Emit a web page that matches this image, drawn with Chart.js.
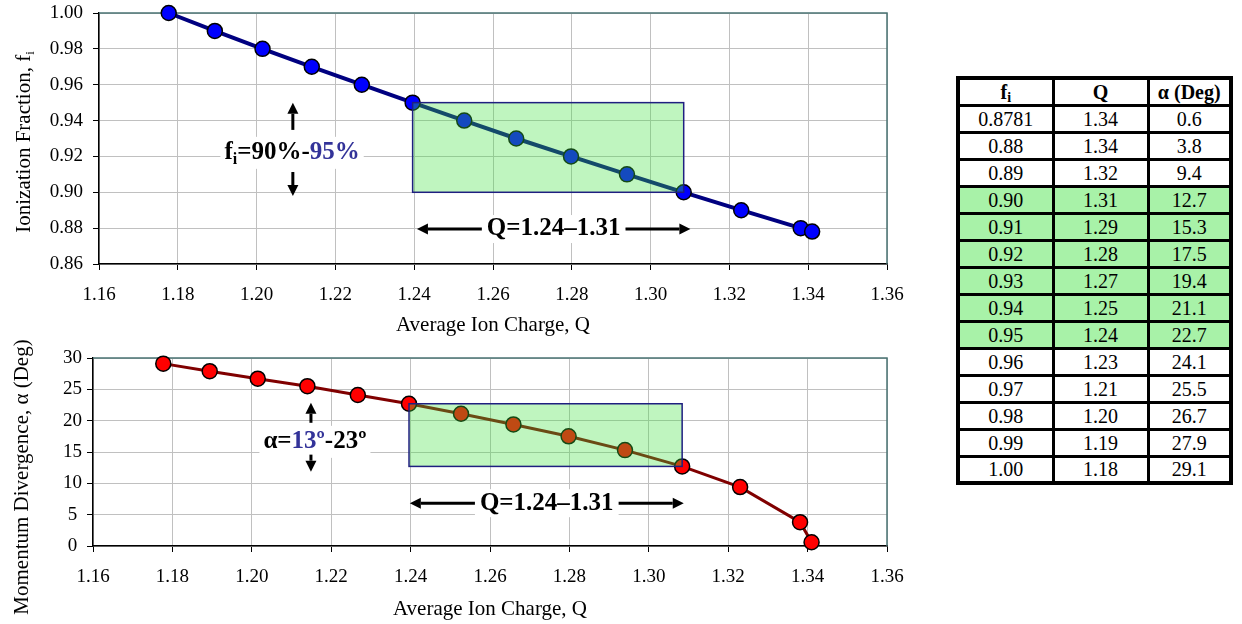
<!DOCTYPE html>
<html>
<head>
<meta charset="utf-8">
<script src="https://cdn.jsdelivr.net/npm/chart.js@4.4.0/dist/chart.umd.min.js"></script>
<style>
  body { margin: 0; background: #fff; width: 1242px; height: 624px; overflow: hidden; position: relative; }
  #topChart { position: absolute; left: 0; top: 0; }
  #botChart { position: absolute; left: 0; top: 335px; }
  #tbl {
    position: absolute; left: 956px; top: 76px; width: 273px;
    border-collapse: collapse; table-layout: fixed;
    border: 4px solid #000;
    font-family: 'Liberation Serif', 'Times New Roman', serif; font-size: 20px;
  }
  #tbl th, #tbl td { border: 3px solid #000; padding: 0; text-align: center; line-height: 22px; }
  #tbl tr { height: 27px; }
  #tbl .band { background: #a8f2a8; }
  #tbl sub { font-size: 14px; vertical-align: -3px; line-height: 0; }
</style>
</head>
<body>
<canvas id="topChart" width="910" height="345"></canvas>
<canvas id="botChart" width="910" height="289"></canvas>
<table id="tbl">
  <colgroup><col style="width:95px"><col style="width:95px"><col style="width:83px"></colgroup>
  <thead><tr><th>f<sub>i</sub></th><th>Q</th><th>α (Deg)</th></tr></thead>
  <tbody></tbody>
</table>
<script>
// data (ordered along Q)
const ionFraction = [1.00, 0.99, 0.98, 0.97, 0.96, 0.95, 0.94, 0.93, 0.92, 0.91, 0.90, 0.89, 0.88, 0.8781];
const ionCharge = [1.1777, 1.1894, 1.2015, 1.2140, 1.2267, 1.2396, 1.2527, 1.2659, 1.2798, 1.2940, 1.3084, 1.3230, 1.3381, 1.3410];
const divergence = [29.1, 27.9, 26.7, 25.5, 24.1, 22.7, 21.1, 19.4, 17.5, 15.3, 12.7, 9.4, 3.8, 0.6];

const chargeTicks = [1.16, 1.18, 1.20, 1.22, 1.24, 1.26, 1.28, 1.30, 1.32, 1.34, 1.36];
const fractionTicks = [0.86, 0.88, 0.90, 0.92, 0.94, 0.96, 0.98, 1.00];
const divergenceTicks = [0, 5, 10, 15, 20, 25, 30];

const bandLow = 0.90, bandHigh = 0.95;

const SERIF = "'Liberation Serif', 'Times New Roman', serif";
Chart.defaults.font.family = SERIF;
Chart.defaults.color = '#000';

// band limits taken from the points inside the 90-95 % window
const inBand = ionFraction.map(f => f >= bandLow - 1e-9 && f <= bandHigh + 1e-9);
const bandQ = ionCharge.filter((q, i) => inBand[i]);
const bandA = divergence.filter((a, i) => inBand[i]);

function segsWidth(ctx, segs, size) {
  let w = 0;
  segs.forEach(s => {
    ctx.font = `bold ${s.sub ? Math.round(size * 0.62) : size}px ${SERIF}`;
    w += ctx.measureText(s.t).width;
  });
  return w;
}

function drawSegs(ctx, segs, x, y, size, weight) {
  ctx.textBaseline = 'middle';
  ctx.textAlign = 'left';
  segs.forEach(s => {
    ctx.font = `${weight} ${s.sub ? Math.round(size * 0.62) : size}px ${SERIF}`;
    ctx.fillStyle = s.color || '#000';
    ctx.fillText(s.t, x, y + (s.sub ? size * 0.3 : 0));
    x += ctx.measureText(s.t).width;
  });
}

function arrow(ctx, x1, y1, x2, y2) {
  const ang = Math.atan2(y2 - y1, x2 - x1);
  const c = Math.cos(ang), s = Math.sin(ang);
  const head = 11, half = 5.5;
  ctx.strokeStyle = '#000';
  ctx.fillStyle = '#000';
  ctx.lineWidth = 3;
  ctx.beginPath();
  ctx.moveTo(x1, y1);
  ctx.lineTo(x2 - head * c, y2 - head * s);
  ctx.stroke();
  ctx.beginPath();
  ctx.moveTo(x2, y2);
  ctx.lineTo(x2 - head * c - half * s, y2 - head * s + half * c);
  ctx.lineTo(x2 - head * c + half * s, y2 - head * s - half * c);
  ctx.closePath();
  ctx.fill();
}

const annotatePlugin = {
  id: 'annotate',
  beforeDatasetsDraw(chart) {
    const { ctx, chartArea: a } = chart;
    ctx.save();
    ctx.strokeStyle = '#4a7373';
    ctx.lineWidth = 1.5;
    ctx.beginPath();
    ctx.moveTo(a.left, a.top);
    ctx.lineTo(a.right, a.top);
    ctx.lineTo(a.right, a.bottom);
    ctx.stroke();
    ctx.restore();
  },
  afterDatasetsDraw(chart, args, o) {
    const { ctx, scales: { x, y } } = chart;
    ctx.save();
    // highlighted window
    const bx0 = x.getPixelForValue(o.box.x0), bx1 = x.getPixelForValue(o.box.x1);
    const by0 = y.getPixelForValue(o.box.y1), by1 = y.getPixelForValue(o.box.y0);
    ctx.fillStyle = 'rgba(60,225,60,0.33)';
    ctx.fillRect(bx0, by0, bx1 - bx0, by1 - by0);
    ctx.strokeStyle = '#1f1f80';
    ctx.lineWidth = 1.5;
    ctx.strokeRect(bx0, by0, bx1 - bx0, by1 - by0);

    // Q range arrow
    const size = 25;
    const rx0 = x.getPixelForValue(o.range.x0), rx1 = x.getPixelForValue(o.range.x1);
    const ry = y.getPixelForValue(o.range.y);
    const rw = segsWidth(ctx, o.range.segs, size);
    const rmid = (rx0 + rx1) / 2;
    ctx.fillStyle = '#fff';
    ctx.fillRect(rmid - rw / 2 - 5, ry - 14, rw + 10, 28);
    drawSegs(ctx, o.range.segs, rmid - rw / 2, ry, size, 'bold');
    arrow(ctx, rmid - rw / 2 - 5, ry, rx0, ry);
    arrow(ctx, rmid + rw / 2 + 5, ry, rx1, ry);

    // vertical label with arrows
    const lx = x.getPixelForValue(o.label.x), ly = y.getPixelForValue(o.label.y);
    const lw = segsWidth(ctx, o.label.segs, size);
    ctx.fillStyle = '#fff';
    ctx.fillRect(lx - lw / 2 - 4, ly - 16, lw + 8, 32);
    drawSegs(ctx, o.label.segs, lx - lw / 2, ly, size, 'bold');
    const ax = x.getPixelForValue(o.label.ax);
    arrow(ctx, ax, y.getPixelForValue(o.label.up[0]), ax, y.getPixelForValue(o.label.up[1]));
    arrow(ctx, ax, y.getPixelForValue(o.label.down[0]), ax, y.getPixelForValue(o.label.down[1]));
    ctx.restore();
  },
  afterDraw(chart, args, o) {
    // rotated y axis title (needs a subscript on the top chart)
    const { ctx } = chart;
    const size = 21;
    ctx.save();
    let w = 0;
    o.yTitle.segs.forEach(s => {
      ctx.font = `${s.sub ? 13 : size}px ${SERIF}`;
      w += ctx.measureText(s.t).width;
    });
    ctx.translate(o.yTitle.cx, o.yTitle.cy);
    ctx.rotate(-Math.PI / 2);
    drawSegs(ctx, o.yTitle.segs, -w / 2, 0, size, 'normal');
    ctx.restore();
  }
};

// the plot area is fixed by layout padding, so drop the scales' own label padding
function noPad(s) {
  s.paddingTop = 0; s.paddingBottom = 0; s.paddingLeft = 0; s.paddingRight = 0;
}

function baseScales(yMin, yMax, yTicks, yFmt, yWidth, yPad, xHeight, xTitlePad) {
  return {
    x: {
      type: 'linear', min: 1.16, max: 1.36,
      afterBuildTicks: s => { s.ticks = chargeTicks.map(v => ({ value: v })); },
      afterFit: s => { s.height = xHeight; noPad(s); },
      grid: { color: '#c0c0c0', lineWidth: 1, tickColor: '#000', tickLength: 6 },
      border: { color: '#000', width: 1.5 },
      ticks: { font: { size: 19 }, padding: 14, maxRotation: 0, callback: v => v.toFixed(2) },
      title: { display: true, text: 'Average Ion Charge, Q', font: { size: 21 }, padding: { top: 0, bottom: xTitlePad } }
    },
    y: {
      type: 'linear', min: yMin, max: yMax,
      afterBuildTicks: s => { s.ticks = yTicks.map(v => ({ value: v })); },
      afterFit: s => { s.width = yWidth; noPad(s); },
      grid: { color: '#c0c0c0', lineWidth: 1, tickColor: '#000', tickLength: 6 },
      border: { color: '#000', width: 1.5 },
      ticks: { font: { size: 19 }, padding: yPad, crossAlign: 'center', callback: yFmt }
    }
  };
}

const commonOptions = {
  responsive: false,
  animation: false,
  devicePixelRatio: 1,
  events: []
};

new Chart(document.getElementById('topChart'), {
  type: 'line',
  data: {
    datasets: [{
      data: ionCharge.map((q, i) => ({ x: q, y: ionFraction[i] })),
      borderColor: '#000080',
      borderWidth: 4,
      pointBackgroundColor: '#0000ff',
      pointBorderColor: '#000',
      pointBorderWidth: 1.5,
      pointRadius: 7.5,
      tension: 0,
      clip: false
    }]
  },
  options: Object.assign({}, commonOptions, {
    layout: { autoPadding: false, padding: { top: 13, right: 23, left: 0, bottom: 0 } },
    plugins: {
      legend: { display: false },
      tooltip: { enabled: false },
      annotate: {
        box: { x0: bandQ[0], x1: bandQ[bandQ.length - 1], y0: bandLow, y1: bandHigh },
        range: { x0: 1.2407, x1: 1.3101, y: 0.8795, segs: [{ t: 'Q=1.24–1.31' }] },
        label: {
          x: 1.2090, y: 0.9220, ax: 1.2092,
          up: [0.9348, 0.9499], down: [0.9113, 0.8979],
          segs: [{ t: 'f' }, { t: 'i', sub: true }, { t: '=90%-' }, { t: '95%', color: '#333399' }]
        },
        yTitle: { cx: 24, cy: 142, segs: [{ t: 'Ionization Fraction, f' }, { t: 'i', sub: true }] }
      }
    },
    scales: baseScales(0.86, 1.00, fractionTicks, v => v.toFixed(2), 99, 10, 81, 7)
  }),
  plugins: [annotatePlugin]
});

new Chart(document.getElementById('botChart'), {
  type: 'line',
  data: {
    datasets: [{
      data: ionCharge.map((q, i) => ({ x: q, y: divergence[i] })),
      borderColor: '#800000',
      borderWidth: 3,
      pointBackgroundColor: '#ff0000',
      pointBorderColor: '#000',
      pointBorderWidth: 1.5,
      pointRadius: 7.5,
      tension: 0,
      clip: false
    }]
  },
  options: Object.assign({}, commonOptions, {
    layout: { autoPadding: false, padding: { top: 23, right: 23, left: 0, bottom: 0 } },
    plugins: {
      legend: { display: false },
      tooltip: { enabled: false },
      annotate: {
        box: { x0: bandQ[0], x1: bandQ[bandQ.length - 1], y0: Math.min(...bandA), y1: Math.max(...bandA) },
        range: { x0: 1.2398, x1: 1.3088, y: 6.83, segs: [{ t: 'Q=1.24–1.31' }] },
        label: {
          x: 1.2159, y: 16.62, ax: 1.2149,
          up: [19.66, 22.86], down: [14.58, 11.86],
          segs: [{ t: 'α=' }, { t: '13º', color: '#333399' }, { t: '-23º' }]
        },
        yTitle: { cx: 22, cy: 142, segs: [{ t: 'Momentum Divergence, α (Deg)' }] }
      }
    },
    scales: baseScales(0, 30, divergenceTicks, v => String(v), 93, 5, 78, 2)
  }),
  plugins: [annotatePlugin]
});

// table, listed from lowest to highest ionization fraction
const tbody = document.querySelector('#tbl tbody');
for (let i = ionFraction.length - 1; i >= 0; i--) {
  const f = ionFraction[i];
  const fText = Math.abs(f * 100 - Math.round(f * 100)) < 1e-9 ? f.toFixed(2) : f.toFixed(4);
  const tr = document.createElement('tr');
  if (inBand[i]) tr.className = 'band';
  [fText, ionCharge[i].toFixed(2), divergence[i].toFixed(1)].forEach(t => {
    const td = document.createElement('td');
    td.textContent = t;
    tr.appendChild(td);
  });
  tbody.appendChild(tr);
}
</script>
</body>
</html>
